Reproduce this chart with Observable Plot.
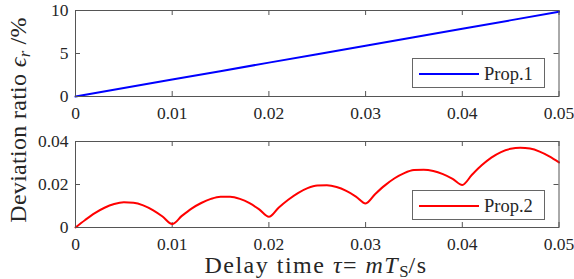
<!DOCTYPE html>
<html><head><meta charset="utf-8">
<script src="https://cdn.jsdelivr.net/npm/d3@7"></script>
<script src="https://cdn.jsdelivr.net/npm/@observablehq/plot@0.6"></script>
<style>
body{margin:0;background:#fff;}
#wrap{position:relative;width:574px;height:279px;font-family:"Liberation Serif",serif;color:#262626;overflow:hidden;}
.panel{position:absolute;left:0;}
.panel text{font-family:"Liberation Serif",serif;}
.legend{position:absolute;background:#fff;border:1px solid #666;box-sizing:border-box;}
.legend .sw{position:absolute;height:2px;}
.legend .tx{position:absolute;font-size:18.5px;line-height:1;white-space:nowrap;}
#ylab{position:absolute;left:18px;top:120px;transform:translate(-50%,-50%) rotate(-90deg);font-size:24px;letter-spacing:0.3px;white-space:nowrap;line-height:1.2;}
#xlab{position:absolute;left:316px;top:255px;transform:translateX(-50%);font-size:24px;letter-spacing:1.5px;white-space:nowrap;line-height:0.9;}
sub{font-size:70%;vertical-align:-0.25em;line-height:0;letter-spacing:0;}
</style></head><body><div id="wrap">
<div id="ylab">Deviation ratio <i>ϵ<sub>r</sub></i> /%</div>
<div id="xlab">Delay time <i>τ</i>= <i>mT</i><sub>S</sub>/s</div>
</div>
<script>
const xTicks = [0, 0.01, 0.02, 0.03, 0.04, 0.05];
const yTicks1 = [0, 5, 10];
const yTicks2 = [0, 0.02, 0.04];
const series1Name = "Prop.1";
const series2Name = "Prop.2";
const tau1 = [0, 0.01, 0.02, 0.03, 0.04, 0.05];
const prop1 = [0, 1.97, 3.94, 5.91, 7.88, 9.85];
const tau2 = [0,0.001,0.002,0.003,0.004,0.005,0.006,0.007,0.008,0.009,
  0.010,0.011,0.012,0.013,0.014,0.015,0.016,0.017,0.018,0.019,
  0.020,0.021,0.022,0.023,0.024,0.025,0.026,0.027,0.028,0.029,
  0.030,0.031,0.032,0.033,0.034,0.035,0.036,0.037,0.038,0.039,
  0.040,0.041,0.042,0.043,0.044,0.045,0.046,0.047,0.048,0.049,0.050];
const prop2 = [0,0.0035,0.0067,0.0092,0.0109,0.0117,0.0115,0.0103,0.0081,0.0051,
  0.0016,0.0054,0.0088,0.0114,0.0133,0.0143,0.0143,0.0133,0.0113,0.0084,
  0.0050,0.0092,0.0129,0.0160,0.0183,0.0195,0.0196,0.0188,0.0170,0.0144,
  0.0112,0.0156,0.0196,0.0229,0.0253,0.0267,0.0269,0.0263,0.0248,0.0226,
  0.0198,0.0245,0.0289,0.0325,0.0351,0.0366,0.0371,0.0367,0.0353,0.0331,0.0303];

const W = 574, H = 125, mL = 75, mR = 15.5, mT = 10, mB = 29;
const innerW = W - mL - mR, innerH = H - mT - mB;
const fmtX = d => d === 0 ? "0" : d.toFixed(2);
const axisColor = "#555";
const serif = "'Liberation Serif', serif";

function panel(xs, ys, yDomain, yTicks, fmtY, color, top) {
  const data = xs.map((x, i) => ({x, y: ys[i]}));
  const svg = Plot.plot({
    width: W, height: H, marginLeft: mL, marginRight: mR, marginTop: mT, marginBottom: mB,
    x: {domain: [0, 0.05]},
    y: {domain: yDomain},
    style: {fontFamily: serif, fontSize: "17.5px", color: "#262626", background: "transparent", overflow: "visible"},
    marks: [
      Plot.axisX(xTicks, {tickSize: 0, tickPadding: 10.5, tickFormat: fmtX, label: null, fontFamily: serif}),
      Plot.axisY(yTicks, {tickSize: 0, tickPadding: 7, tickFormat: fmtY, label: null, fontFamily: serif}),
      Plot.tickX(xTicks, {x: d => d, insetTop: innerH - 5, stroke: axisColor}),
      Plot.tickX(xTicks, {x: d => d, insetBottom: innerH - 5, stroke: axisColor}),
      Plot.tickY(yTicks, {y: d => d, insetRight: innerW - 5, stroke: axisColor}),
      Plot.tickY(yTicks, {y: d => d, insetLeft: innerW - 5, stroke: axisColor}),
      Plot.line(data, {x: "x", y: "y", stroke: color, strokeWidth: 2, curve: "monotone-x"}),
      Plot.frame({stroke: axisColor, strokeWidth: 1})
    ]
  });
  svg.classList.add("panel");
  svg.style.top = top + "px";
  document.getElementById("wrap").appendChild(svg);
}

panel(tau1, prop1, [0, 10], yTicks1, d => String(d), "#0000ff", 0);
panel(tau2, prop2, [0, 0.04], yTicks2, d => d === 0 ? "0" : d.toFixed(2), "#ff0000", 130.7);

function legend(name, color, left, top) {
  const box = document.createElement("div");
  box.className = "legend";
  Object.assign(box.style, {left: left + "px", top: top + "px", width: "133px", height: "30px"});
  const sw = document.createElement("div");
  sw.className = "sw";
  Object.assign(sw.style, {left: "6px", top: "14px", width: "60px", background: color});
  const tx = document.createElement("div");
  tx.className = "tx";
  Object.assign(tx.style, {left: "71px", top: "6px"});
  tx.textContent = name;
  box.appendChild(sw); box.appendChild(tx);
  document.getElementById("wrap").appendChild(box);
}
legend(series1Name, "#0000ff", 412, 58);
legend(series2Name, "#ff0000", 412, 190);
</script>
</body></html>
